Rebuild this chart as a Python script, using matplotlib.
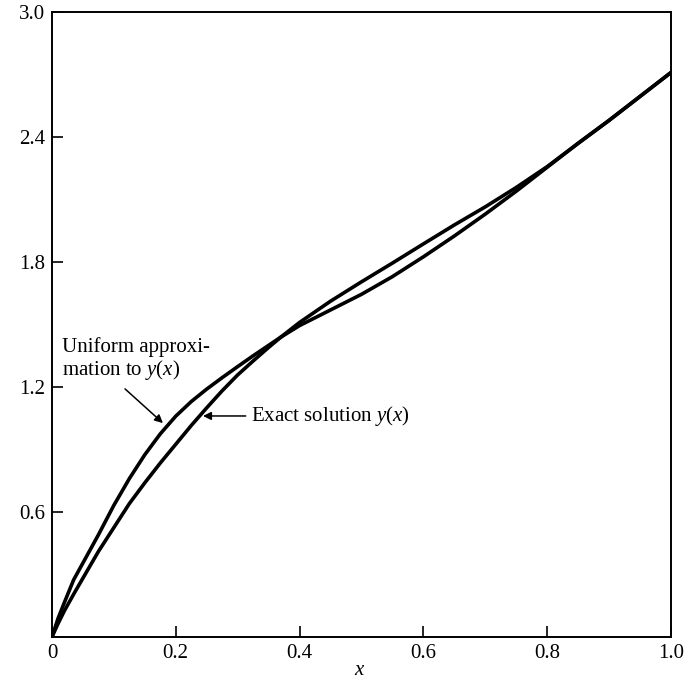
import matplotlib.pyplot as plt

# values
x_pts = [0.0, 0.01, 0.02, 0.035, 0.05, 0.075, 0.1, 0.125, 0.15, 0.175, 0.2, 0.225,
         0.25, 0.275, 0.3, 0.325, 0.35, 0.37, 0.4, 0.45, 0.5, 0.55, 0.6, 0.65,
         0.7, 0.75, 0.8, 0.85, 0.9, 0.95, 1.0]
y_uniform = [0.0, 0.09, 0.165, 0.274, 0.355, 0.49, 0.632, 0.76, 0.875, 0.975, 1.06, 1.13,
             1.19, 1.245, 1.298, 1.35, 1.40, 1.44, 1.495, 1.57, 1.645, 1.73, 1.825, 1.925,
             2.03, 2.14, 2.255, 2.37, 2.48, 2.595, 2.71]
y_exact = [0.0, 0.065, 0.125, 0.205, 0.282, 0.41, 0.525, 0.64, 0.74, 0.835, 0.925, 1.015,
           1.10, 1.182, 1.258, 1.325, 1.39, 1.44, 1.51, 1.612, 1.705, 1.795, 1.887, 1.978,
           2.065, 2.158, 2.258, 2.37, 2.48, 2.595, 2.71]

x_ticks = [0, 0.2, 0.4, 0.6, 0.8, 1.0]
x_labels = ['0', '0.2', '0.4', '0.6', '0.8', '1.0']
y_ticks = [0.6, 1.2, 1.8, 2.4, 3.0]
y_labels = ['0.6', '1.2', '1.8', '2.4', '3.0']

plt.rcParams['font.family'] = ['Liberation Serif', 'DejaVu Serif']
plt.rcParams['mathtext.fontset'] = 'custom'
plt.rcParams['mathtext.rm'] = 'Liberation Serif'
plt.rcParams['mathtext.it'] = 'Liberation Serif:italic'

fig = plt.figure(figsize=(6.93, 6.79), dpi=100)
ax = fig.add_axes([0.075, 0.062, 0.893, 0.920])

ax.plot(x_pts, y_uniform, color='black', lw=2.6, solid_capstyle='round', solid_joinstyle='round')
ax.plot(x_pts, y_exact, color='black', lw=2.6, solid_capstyle='round', solid_joinstyle='round')

ax.set_xlim(0, 1.0)
ax.set_ylim(0, 3.0)
ax.set_xticks(x_ticks)
ax.set_xticklabels(x_labels, fontsize=15)
ax.set_yticks(y_ticks)
ax.set_yticklabels(y_labels, fontsize=15)
ax.tick_params(direction='in', length=8, width=1.2, pad=5)
for s in ax.spines.values():
    s.set_linewidth(1.4)

ax.set_xlabel('$x$', fontsize=15)
ax.xaxis.set_label_coords(0.497, -0.038)

ax.text(0.016, 1.33, 'Uniform approxi-\nmation to $y(x)$', fontsize=15,
        ha='left', va='center', linespacing=1.05)
ax.annotate('', xy=(0.1826, 1.018), xytext=(0.1147, 1.20),
            arrowprops=dict(arrowstyle='-|>', color='black', lw=1.1, mutation_scale=12))
ax.annotate('Exact solution $y(x)$', xy=(0.244, 1.061), xytext=(0.322, 1.061),
            fontsize=15, va='center', ha='left',
            arrowprops=dict(arrowstyle='-|>', color='black', lw=1.1, mutation_scale=12,
                            shrinkA=2, shrinkB=0))

fig.savefig('out.png', dpi=100)
